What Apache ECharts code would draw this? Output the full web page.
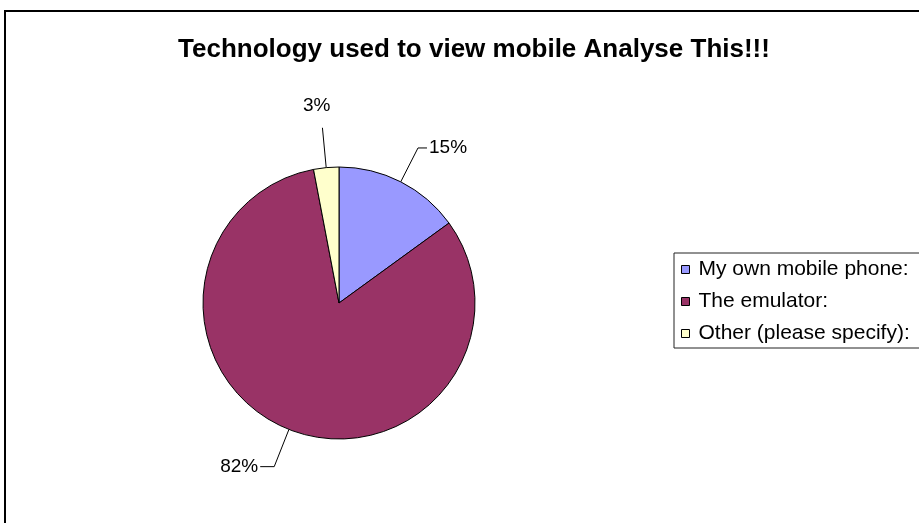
<!DOCTYPE html>
<html>
<head>
<meta charset="utf-8">
<style>
  html, body { margin: 0; padding: 0; background: #fff; }
  #chart { width: 919px; height: 523px; }
</style>
<script src="https://cdn.jsdelivr.net/npm/echarts@6/dist/echarts.min.js"></script>
</head>
<body>
<div id="chart"></div>
<script>
// Survey answers: how respondents viewed the mobile site
const categories = ['My own mobile phone:', 'The emulator:', 'Other (please specify):'];
const shares = [15, 82, 3];
const sliceColors = ['#9999FF', '#993366', '#FFFFCC'];
// leader line lengths per slice (radial part, horizontal part)
const leaderLengths = [[38, 9], [40, 14], [40, 0]];
// nudges that set a label above its leader instead of beside it
const labelNudges = [[0, 0], [0, 0], [10, -22]];

const chart = echarts.init(document.getElementById('chart'), null, { renderer: 'canvas' });

const FONT = '"Liberation Sans", Arial, sans-serif';

chart.setOption({
  backgroundColor: '#ffffff',
  animation: false,
  graphic: [{
    type: 'rect',
    shape: { x: 5, y: 11, width: 1000, height: 1000 },
    style: { fill: 'none', stroke: '#000', lineWidth: 2 },
    silent: true,
    z: 100
  }],
  title: {
    text: 'Technology used to view mobile Analyse This!!!',
    left: 469,
    textAlign: 'center',
    top: 32,
    textStyle: { fontFamily: FONT, fontWeight: 'bold', fontSize: 26, color: '#000' }
  },
  legend: {
    orient: 'vertical',
    left: 674,
    top: 253,
    padding: [6, 12, 4, 7],
    borderColor: '#222',
    borderWidth: 1,
    itemWidth: 8,
    itemHeight: 8,
    itemGap: 11,
    icon: 'rect',
    itemStyle: { borderColor: '#000', borderWidth: 1 },
    textStyle: { fontFamily: FONT, fontSize: 21, color: '#000', padding: [0, 0, 0, 4] },
    data: categories
  },
  series: [{
    type: 'pie',
    center: [339, 303],
    radius: 136,
    startAngle: 90,
    clockwise: true,
    avoidLabelOverlap: false,
    itemStyle: { borderColor: '#000', borderWidth: 1 },
    label: {
      show: true,
      position: 'outside',
      formatter: '{d}%',
      fontFamily: FONT,
      fontSize: 19,
      color: '#000',
      distanceToLabelLine: 2
    },
    labelLine: { show: true, lineStyle: { color: '#000', width: 1 } },
    labelLayout: function (params) {
      const n = labelNudges[params.dataIndex];
      return { dx: n[0], dy: n[1] };
    },
    emphasis: { disabled: true },
    data: categories.map((name, i) => ({
      name,
      value: shares[i],
      itemStyle: { color: sliceColors[i] },
      labelLine: { length: leaderLengths[i][0], length2: leaderLengths[i][1] }
    }))
  }]
});
</script>
</body>
</html>
